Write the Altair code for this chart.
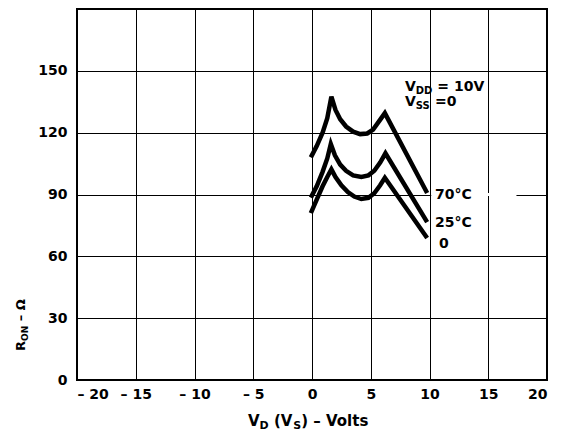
import altair as alt
import pandas as pd

# ---- data ----
vd_70 = [-0.1, 0.4, 0.9, 1.3, 1.65, 2.0, 2.4, 2.9, 3.5, 4.1, 4.7, 5.2, 5.7, 6.2, 9.8]
ron_70 = [108, 113.5, 120, 127, 137.5, 131, 126.5, 123, 120.5, 119.3, 119.6, 121.5, 125.5, 129.5, 90.7]

vd_25 = [-0.1, 0.4, 0.9, 1.3, 1.6, 1.95, 2.4, 2.9, 3.5, 4.2, 4.8, 5.3, 5.8, 6.25, 9.8]
ron_25 = [88.5, 94, 101, 107.5, 114.5, 109, 104.5, 101.5, 99.3, 98.5, 99.3, 101.5, 105.5, 110, 76.6]

vd_0 = [-0.1, 0.4, 0.9, 1.3, 1.65, 2.0, 2.5, 3.05, 3.6, 4.2, 4.8, 5.3, 5.8, 6.2, 9.8]
ron_0 = [81, 87.5, 94, 98.5, 102.2, 98.5, 94.5, 91.2, 89, 87.8, 88.4, 90.6, 94.5, 98.1, 68.9]

x_ticks = [-20, -15, -10, -5, 0, 5, 10, 15, 20]
y_ticks = [0, 30, 60, 90, 120, 150]

rows = []
for name, xs, ys in [("70°C", vd_70, ron_70), ("25°C", vd_25, ron_25), ("0", vd_0, ron_0)]:
    for i, (a, b) in enumerate(zip(xs, ys)):
        rows.append({"series": name, "vd": a, "ron": b, "i": i})
df = pd.DataFrame(rows)

FONT = "DejaVu Sans"
W, H = 470, 371
NB = "\u00a0"

xscale = alt.Scale(domain=[-20, 20], nice=False, zero=False)
yscale = alt.Scale(domain=[0, 180], nice=False)

lines = alt.Chart(df).mark_line(color="black", strokeWidth=4.5, strokeCap="butt").encode(
    x=alt.X("vd:Q", scale=xscale,
            axis=alt.Axis(values=x_ticks, title="", grid=True, ticks=False, domain=False,
                          labelPadding=7,
                          labelExpr="datum.value < 0 ? '– ' + abs(datum.value) : datum.label")),
    y=alt.Y("ron:Q", scale=yscale,
            axis=alt.Axis(values=y_ticks, title="", grid=True, ticks=False, domain=False,
                          labelPadding=10)),
    detail="series:N",
    order="i:Q",
)

gap = alt.Chart(alt.Data(values=[{}])).mark_rule(color="white", strokeWidth=3).encode(
    x=alt.datum(10.15), x2=alt.datum(17.4), y=alt.datum(90)
)


def txt(text, x, y, size=14, angle=0):
    m = alt.Chart(alt.Data(values=[{}])).mark_text(
        text=text, font=FONT, fontWeight="bold", fontSize=size, color="black",
        align="left", baseline="alphabetic", angle=angle,
    )
    return m.encode(x=alt.value(x), y=alt.value(y))


ann = [
    # V_DD = 10V
    txt("V", 328, 82, 14), txt("DD", 338.8, 85, 10), txt("=" + NB + "10V", 360.3, 82, 14),
    # V_SS = 0
    txt("V", 328, 97, 14), txt("SS", 338.8, 100, 10), txt("=0", 358.1, 97, 14),
    # curve labels
    txt("70°C", 358, 190, 14), txt("25°C", 358, 218, 14), txt("0", 362, 239, 14),
    # x title
    txt("V", 171, 417, 15), txt("D", 182.6, 420, 11), txt("(V", 196.9, 417, 15),
    txt("S", 216.3, 420, 11), txt(")" + NB + "–" + NB + "Volts", 224.2, 417, 15),
    # y title (rotated)
    txt("R", -52, 342, 13, 270), txt("ON", -49, 332, 9, 270), txt("–" + NB + "Ω", -52, 312.3, 13, 270),
]

chart = alt.layer(gap, lines, *ann).properties(
    width=W, height=H,
    autosize=alt.AutoSizeParams(type="none"),
    padding={"left": 69, "top": 1, "right": 6, "bottom": 52},
).configure_view(
    stroke="black", strokeWidth=2
).configure_axis(
    labelFont=FONT, labelFontWeight="bold", labelFontSize=14, labelColor="black",
    gridColor="black", gridWidth=1, gridOpacity=1,
)

chart.save("out.html", embed_options={"renderer": "svg", "actions": False})
